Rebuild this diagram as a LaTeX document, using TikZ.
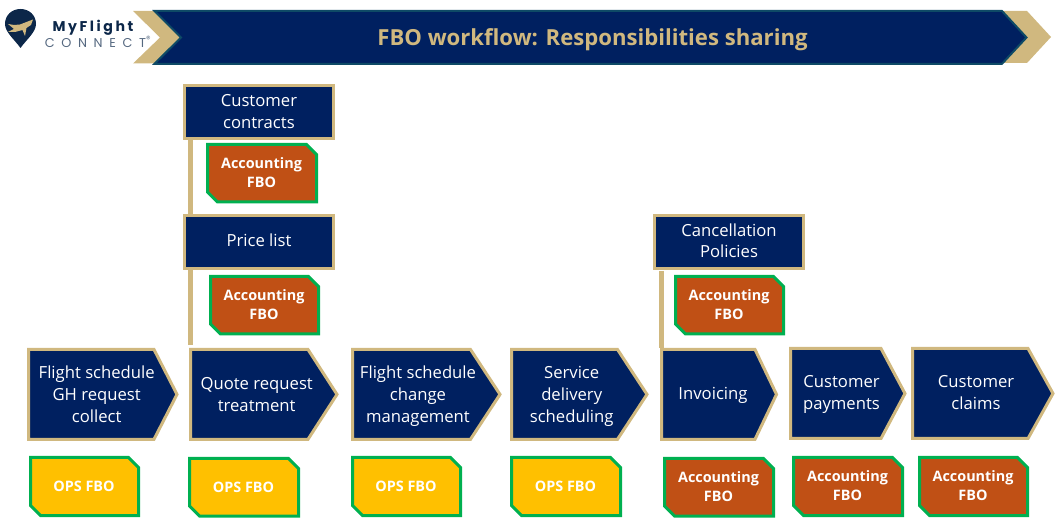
\documentclass[tikz,border=0pt]{standalone}
\usepackage{fontspec}
\setmainfont{Open Sans}
\newfontfamily\logofont{Poppins}
\definecolor{navy}{HTML}{002060}
\definecolor{gold}{HTML}{D0B87F}
\definecolor{teal}{HTML}{0E4A66}
\definecolor{rust}{HTML}{C05015}
\definecolor{amber}{HTML}{FFC000}
\definecolor{tagline}{HTML}{00B050}
\definecolor{logonavy}{HTML}{0C2749}
\tikzset{
  x=0.75pt,y=-0.75pt,
  stepshape/.style={draw=gold,fill=navy,line width=2.25pt,miter limit=10},
  boxshape/.style={draw=gold,fill=navy,line width=2.25pt,inner sep=0pt},
  label/.style={text=white,font=\fontsize{12.5}{16.3}\selectfont,align=center,inner sep=0pt},
  tagtext/.style={text=white,font=\fontsize{10.8}{14}\selectfont\bfseries,align=center,inner sep=0pt},
  link/.style={draw=gold,line width=3.75pt},
}
\newcommand{\evenl}[1]{\vphantom{Ag}#1\vphantom{g}}
% box text: first argument is the height of the first line, which moves the text down
\newcommand{\evenb}[2]{\rule{0pt}{#1}#2\vphantom{g}}
% name, left, top, right, bottom, shoulder, text x, text, text y offset
\newcommand{\chev}[9]{%
  \path[stepshape] (#2,#3) -- (#6,#3) -- (#4,{(#3+#5)/2}) -- (#6,#5) -- (#2,#5) -- cycle;
  \node[label] (#1) at (#7,{(#3+#5)/2+#9}) {\evenl{#8}};
}
% name, left, top, right, bottom, fill, text
\newcommand{\tagbox}[7]{%
  \path[draw=tagline,fill=#6,line width=2.25pt] (#2,#3) -- ({#4-10},#3) -- (#4,{#3+10}) -- (#4,#5) -- ({#2+10},#5) -- (#2,{#5-10}) -- cycle;
  \node[tagtext] (#1) at ({(#2+#4)/2-0.5},{(#3+#5)/2+1}) {\evenl{#7}};
}
\begin{document}
\begin{tikzpicture}
\useasboundingbox (0,0) rectangle (1056,530);
% banner
\fill[gold] (133,11) -- (155,11) -- (182,37.5) -- (155,63.5) -- (133,63.5) -- (160,37.5) -- cycle;
\fill[gold] (1002,11) -- (1027,11) -- (1051,37) -- (1027,63) -- (1002,63) -- (1026,37) -- cycle;
\path[draw=teal,fill=navy,line width=1.5pt] (154.5,11) -- (1002,11) -- (1026.5,37.5) -- (1002,63.8) -- (154.5,63.8) -- (181,37.5) -- cycle;
\node[text=gold,font=\fontsize{16.6}{20}\selectfont\bfseries,inner sep=0pt] (title) at (592.5,39.5) {\evenl{FBO workflow: Responsibilities sharing}};
% logo
\fill[logonavy] (20.5,48) .. controls (14,39) and (5,32) .. (5,24) .. controls (5,15) and (12,9) .. (20.5,9) .. controls (29,9) and (36,15) .. (36,24) .. controls (36,32) and (27,39) .. (20.5,48) -- cycle;
\fill[gold] (8,24) -- (14,25) -- (20,24.5) -- (33,19.5) -- (31,25) -- (26.5,28) -- (25,36) -- (22.5,30) -- (15,32) -- (8,32) -- (14,29) -- cycle;
\node[text=logonavy,font=\logofont\fontsize{10.6}{11}\selectfont\bfseries,inner sep=0pt] (brand) at (93,28) {\addfontfeature{LetterSpace=18}MyFlight};
\node[text=logonavy!70,font=\logofont\fontsize{9.6}{10}\selectfont,inner sep=0pt] (brand2) at (98,42) {\addfontfeature{LetterSpace=52}CONNECT\textsuperscript{®}};
% top boxes
\node[boxshape,label,minimum height=39.4pt,minimum width=111.5pt] (contracts) at (258.9,111.8) {\evenb{11.9pt}{Customer\\contracts}};
\node[boxshape,label,minimum height=39.75pt,minimum width=111.75pt] (price) at (259,242) {\evenb{10.4pt}{Price list}};
\node[boxshape,label,minimum height=39.75pt,minimum width=111.75pt] (cancel) at (729,242) {\evenb{10.4pt}{Cancellation\\Policies}};
% tags
\tagbox{t1}{207.5}{144.5}{316.5}{202}{rust}{Accounting\\FBO}
\tagbox{t2}{210.5}{276.5}{318.5}{334}{rust}{Accounting\\FBO}
\tagbox{t3}{675.5}{276.5}{783.5}{334}{rust}{Accounting\\FBO}
\tagbox{o1}{30.5}{457.5}{138.5}{515.5}{amber}{\raisebox{-0.75pt}{OPS FBO}}
\tagbox{o2}{189.5}{458.5}{298.5}{516}{amber}{\raisebox{-0.75pt}{OPS FBO}}
\tagbox{o3}{352.5}{457.5}{460.5}{515.5}{amber}{\raisebox{-0.75pt}{OPS FBO}}
\tagbox{o4}{511.5}{457.5}{620.5}{515.5}{amber}{\raisebox{-0.75pt}{OPS FBO}}
\tagbox{a1}{664.5}{458.5}{773.5}{516}{rust}{Accounting\\FBO}
\tagbox{a2}{793.5}{457.5}{902.5}{515.5}{rust}{Accounting\\FBO}
\tagbox{a3}{919.5}{457.5}{1027.5}{515.5}{rust}{Accounting\\FBO}
% steps
\chev{s1}{28.5}{349.5}{177}{439.3}{154}{96.7}{Flight schedule\\GH request\\collect}{2}
\chev{s2}{190.5}{349.5}{337}{439.3}{308}{256.7}{Quote request\\treatment}{2}
\chev{s3}{352.5}{349.5}{500}{439.3}{470.5}{418}{Flight schedule\\change\\management}{2}
\chev{s4}{511.5}{349.5}{647}{439.3}{617.5}{571.7}{Service\\delivery\\scheduling}{2}
\chev{s5}{661.5}{349.5}{776.5}{439.3}{755}{713}{Invoicing}{1}
\chev{s6}{790.5}{348.5}{905}{438.5}{881}{841.5}{Customer\\payments}{1}
\chev{s7}{912.5}{348.5}{1053}{438.5}{1028}{976}{Customer\\claims}{1}
% links
\coordinate (l1) at (190.5,139);
\coordinate (l2) at (190.5,214.5);
\coordinate (l3) at (190.5,270);
\coordinate (l4) at (190.5,345.5);
\coordinate (l5) at (661.5,271);
\coordinate (l6) at (661.5,348);
\draw[link] (l1) -- (l2);
\draw[link] (l3) -- (l4);
\draw[link] (l5) -- (l6);
\end{tikzpicture}
\end{document}
